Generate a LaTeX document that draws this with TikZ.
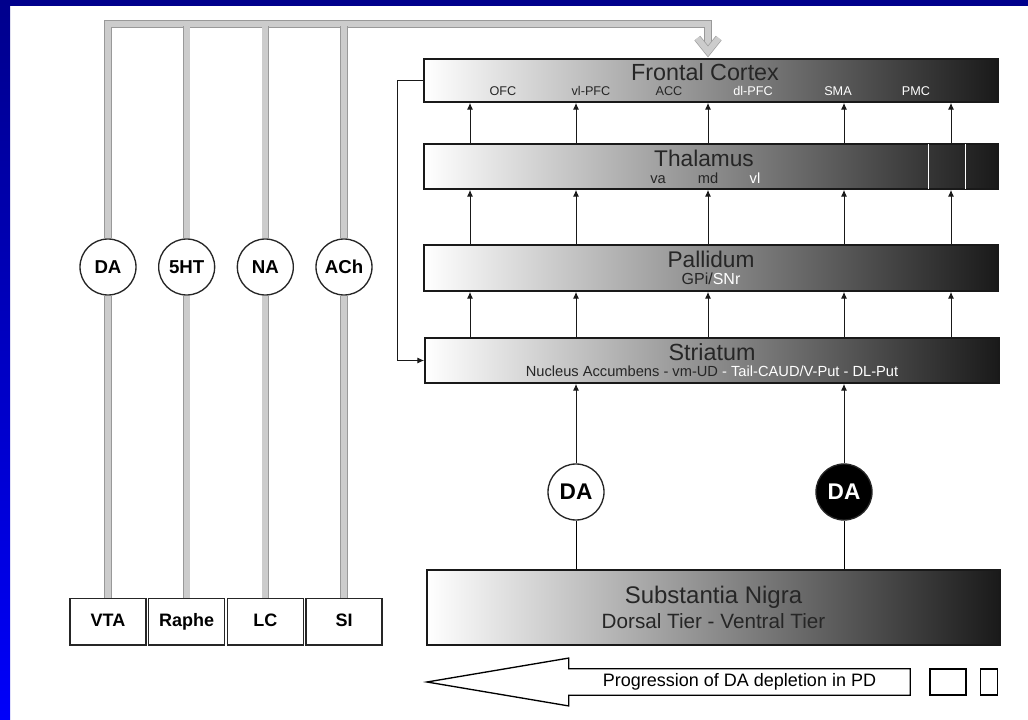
\documentclass[tikz,border=0pt]{standalone}
\usepackage{fontspec}
\setmainfont{Liberation Sans}
\usepackage{xcolor}
\usepackage{tikz}
\usetikzlibrary{arrows.meta,positioning}

\definecolor{slidenavy}{RGB}{0,0,140}
\definecolor{slideblue}{RGB}{0,0,250}

\begin{document}
\begin{tikzpicture}[
  x=0.75pt, y=-0.75pt,
  font=\fontsize{11}{13}\selectfont,
  region/.style={draw=black!90, line width=1.3pt, left color=white,
    right color=black!90, middle color=black!45, minimum width=430.5pt,
    inner sep=0pt, align=center, text=black!85},
  head/.style={font=\fontsize{17}{19}\selectfont, text=black!85, inner sep=0pt},
  part/.style={font=\fontsize{9.5}{11}\selectfont, text=black!85, inner sep=0pt,
    anchor=base},
  subpart/.style={font=\fontsize{11}{13}\selectfont, text=black!85, inner sep=0pt,
    anchor=base},
  nucleus/.style={draw=black!85, line width=1pt, minimum width=57pt,
    minimum height=35pt, inner sep=0pt, text height=9.8pt, text depth=2.6pt,
    font=\fontsize{13.5}{15}\selectfont\bfseries},
  transmitter/.style={circle, draw=black!85, fill=white, line width=1pt,
    minimum size=42pt, inner sep=0pt, font=\fontsize{14}{16}\selectfont\bfseries},
  gbar/.style={draw=black!40, line width=0.5pt, double=black!20,
    double distance=4.5pt},
  arrow/.style={-{Latex[length=5pt,width=4.5pt]}, line width=0.75pt, draw=black!90}
]
  \useasboundingbox (0,0) rectangle (1028,720);
  \fill[white] (0,0) rectangle (1028,720);
  \fill[slidenavy] (0,0) rectangle (1028,6);
  \shade[top color=slidenavy, bottom color=slideblue] (0,0) rectangle (10,720);

  \node[region, minimum height=32.25pt] (fc) at (711,80.5) {};
  \node[head, font=\fontsize{17.5}{19}\selectfont] (fctitle) at (705,72) {Frontal Cortex};
  \node[part] (ofc) at (503,96) {OFC};
  \node[part] (vlpfc) at (591,96) {vl-PFC};
  \node[part] (acc) at (669,96) {ACC};
  \node[part, text=white] (dlpfc) at (753,96) {dl-PFC};
  \node[part, text=white] (sma) at (838,96) {SMA};
  \node[part, text=white] (pmc) at (916,96) {PMC};

  \node[region, minimum height=33.75pt] (thal) at (711,166.5) {};
  \draw[white, line width=0.6pt, shorten <=1pt, shorten >=1pt]
    (thal.north -| 928,0) -- (thal.south -| 928,0);
  \draw[white, line width=0.6pt, shorten <=1pt, shorten >=1pt]
    (thal.north -| 965,0) -- (thal.south -| 965,0);
  \node[head] (thaltitle) at (704,158) {Thalamus};
  \node[subpart] (va) at (658,184) {va};
  \node[subpart] (md) at (708,184) {md};
  \node[subpart, text=white] (vl) at (755,184) {vl};

  \node[region, minimum height=34.5pt] (pall) at (711,268)
    {{\fontsize{17}{19}\selectfont Pallidum}\\[0pt]
     {\fontsize{12}{14}\selectfont GPi/\textcolor{white}{SNr}}};

  \node[region, minimum height=33.75pt] (str) at (712,360.5)
    {{\fontsize{17.5}{19}\selectfont Striatum}\\[-1pt]
     {\fontsize{11}{13}\selectfont Nucleus Accumbens - vm-UD
      \textcolor{white}{- Tail-CAUD/V-Put - DL-Put}}};

  \node[region, minimum width=429.75pt, minimum height=56.25pt] (sn) at (713.5,607.5)
    {{\fontsize{18}{20}\selectfont Substantia Nigra}\\[3pt]
     {\fontsize{15.5}{17}\selectfont Dorsal Tier - Ventral Tier}};

  \foreach \x in {470,576,708,844,951} {
    \draw[arrow] (str.north -| \x,0) -- (pall.south -| \x,0);
    \draw[arrow] (pall.north -| \x,0) -- (thal.south -| \x,0);
    \draw[arrow] (thal.north -| \x,0) -- (fc.south -| \x,0);
  }
  \draw[arrow] (fc.west) -- ++(-26,0) |- (str.west);

  \node[transmitter, font=\fontsize{17}{19}\selectfont\bfseries] (dav) at (576,492) {DA};
  \node[transmitter, fill=black, text=white,
    font=\fontsize{17}{19}\selectfont\bfseries] (dad) at (844,492) {DA};
  \draw[line width=0.75pt] (sn.north -| dav) -- (dav);
  \draw[line width=0.75pt] (sn.north -| dad) -- (dad);
  \draw[arrow] (dav) -- (str.south -| dav);
  \draw[arrow] (dad) -- (str.south -| dad);

  \node[nucleus] (vta) at (108,621.5) {VTA};
  \node[nucleus, right=1pt of vta] (raphe) {Raphe};
  \node[nucleus, right=1pt of raphe] (lc) {LC};
  \node[nucleus, right=1pt of lc] (si) {SI};
  \node[transmitter] (tda) at (vta |- 0,267) {DA};
  \node[transmitter] (tsht) at (raphe |- 0,267) {5HT};
  \node[transmitter] (tna) at (lc |- 0,267) {NA};
  \node[transmitter] (tach) at (si |- 0,267) {ACh};

  \coordinate (bus) at (708,24);
  \coordinate (tip) at ([yshift=5pt]fc.north -| bus);
  \draw[gbar] (vta) -- (tda);
  \draw[gbar] (raphe) -- (tsht);
  \draw[gbar] (lc) -- (tna);
  \draw[gbar] (si) -- (tach);
  \draw[gbar] (tda) |- (bus) -- (tip);
  \draw[gbar] (tsht) -- ([yshift=-1.5pt]tsht |- bus);
  \draw[gbar] (tna) -- ([yshift=-1.5pt]tna |- bus);
  \draw[gbar] (tach) -- ([yshift=-1.5pt]tach |- bus);
  \draw[gbar] ([xshift=-8pt,yshift=10pt]tip) -- (tip) -- ([xshift=8pt,yshift=10pt]tip);

  \node[font=\fontsize{13.5}{15}\selectfont, minimum width=255.75pt,
    minimum height=19.5pt, inner sep=0pt] (prog) at (739.5,682)
    {Progression of DA depletion in PD};
  \coordinate (ptip) at (427,682);
  \draw[line width=1pt] (prog.north east) -- (prog.north west)
    -- ([yshift=8pt]prog.north west) -- (ptip)
    -- ([yshift=-8pt]prog.south west) -- (prog.south west)
    -- (prog.south east) -- cycle;
  \node[draw, line width=1pt, minimum width=27pt, minimum height=19.5pt] (sqa) at (948,682) {};
  \node[draw, line width=1pt, minimum width=13pt, minimum height=19.5pt] (sqb) at (989,682) {};
\end{tikzpicture}
\end{document}
